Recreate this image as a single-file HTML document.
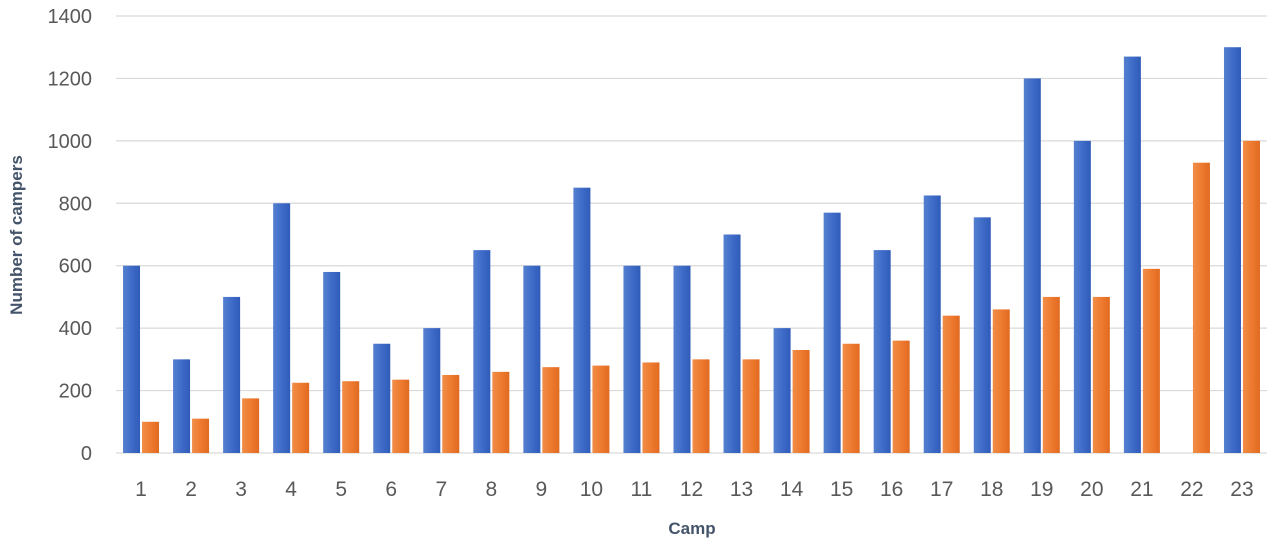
<!DOCTYPE html>
<html><head><meta charset="utf-8"><style>
body{margin:0;background:#fff;}
svg{display:block;font-family:"Liberation Sans",sans-serif;}
</style></head><body>
<svg id="chart" width="1280" height="550">
<defs>
<linearGradient id="gb" x1="0" x2="1"><stop offset="0" stop-color="#5580d0"/><stop offset="0.5" stop-color="#3f6cc8"/><stop offset="1" stop-color="#2f5cb8"/></linearGradient>
<linearGradient id="go" x1="0" x2="1"><stop offset="0" stop-color="#f08d48"/><stop offset="0.5" stop-color="#ee7b30"/><stop offset="1" stop-color="#e06a20"/></linearGradient>
</defs>
<g id="grid"></g><g id="bars"></g><g id="labels"></g>
<text x="22" y="235" transform="rotate(-90 22 235)" text-anchor="middle" font-size="17" font-weight="bold" fill="#44546a">Number of campers</text>
<text x="692" y="534" text-anchor="middle" font-size="17" font-weight="bold" fill="#44546a">Camp</text>
</svg>
<script>
const categories=["1","2","3","4","5","6","7","8","9","10","11","12","13","14","15","16","17","18","19","20","21","22","23"];
const seriesA=[600,300,500,800,580,350,400,650,600,850,600,600,700,400,770,650,825,755,1200,1000,1270,0,1300];
const seriesB=[100,110,175,225,230,235,250,260,275,280,290,300,300,330,350,360,440,460,500,500,590,930,1000];
const yTicks=[0,200,400,600,800,1000,1200,1400];
const NS="http://www.w3.org/2000/svg";
const y0=453,y1=16,yMax=1400,xL=116,xR=1267;
const y=v=>y0-(v/yMax)*(y0-y1);
const step=(xR-xL)/categories.length;
const xc=i=>xL+step*(i+0.5);
function mk(tag,attrs,parent){const e=document.createElementNS(NS,tag);for(const k in attrs)e.setAttribute(k,attrs[k]);parent.appendChild(e);return e;}
const grid=document.getElementById('grid'),bars=document.getElementById('bars'),labels=document.getElementById('labels');
yTicks.forEach(t=>{
 const l=mk('line',{x1:xL,x2:xR,y1:y(t),y2:y(t),stroke:'#d9d9d9','stroke-width':1.2},grid);
 
 
 const tx=mk('text',{x:92,y:y(t)+7,'text-anchor':'end','font-size':20,fill:'#595959'},labels);
 tx.textContent=t;
 
 
});
categories.forEach((c,i)=>{
 const cx=xc(i),w=17;
 if(seriesA[i]>0){
  const b=mk('rect',{x:cx-w-1,y:y(seriesA[i]),width:w,height:y0-y(seriesA[i]),fill:'url(#gb)'},bars);
  
  
 }
 const o=mk('rect',{x:cx+1,y:y(seriesB[i]),width:w,height:y0-y(seriesB[i]),fill:'url(#go)'},bars);
 
 
 const t=mk('text',{x:cx,y:496,'text-anchor':'middle','font-size':21,fill:'#595959'},labels);
 t.textContent=c;
 
 
});
</script>
</body></html>
